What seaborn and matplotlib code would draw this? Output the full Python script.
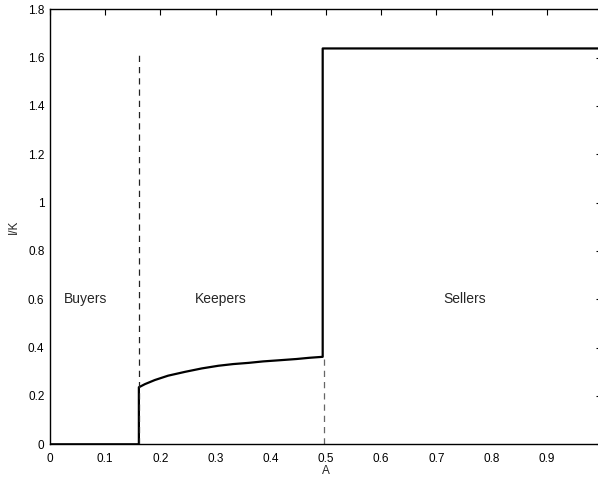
import matplotlib
matplotlib.use('Agg')
import matplotlib.pyplot as plt
import numpy as np
import pandas as pd
import seaborn as sns

# Investment ratio I/K against A, with the regime boundaries.
a_vals = [0.0, 0.161, 0.161, 0.172, 0.190, 0.214, 0.245, 0.275, 0.305,
          0.332, 0.360, 0.386, 0.417, 0.447, 0.470, 0.494, 0.494, 1.0]
ik_vals = [0.0, 0.0, 0.236, 0.249, 0.266, 0.284, 0.300, 0.314, 0.325,
           0.332, 0.337, 0.343, 0.348, 0.353, 0.358, 0.362, 1.638, 1.638]

# Boundary markers: (A, top of dashed line, colour)
bound_a = [0.161, 0.496]
bound_top = [1.628, 0.36]
bound_col = ['#222222', '#666666']

region_names = ['Buyers', 'Keepers', 'Sellers']
region_a = [0.065, 0.309, 0.752]
region_y = [0.6, 0.6, 0.6]

xtick_vals = [0, 0.1, 0.2, 0.3, 0.4, 0.5, 0.6, 0.7, 0.8, 0.9]
xtick_labels = ['0', '0.1', '0.2', '0.3', '0.4', '0.5', '0.6', '0.7', '0.8', '0.9']
ytick_vals = [0, 0.2, 0.4, 0.6, 0.8, 1.0, 1.2, 1.4, 1.6, 1.8]
ytick_labels = ['0', '0.2', '0.4', '0.6', '0.8', '1', '1.2', '1.4', '1.6', '1.8']

sns.set_theme(style='white')
plt.rcParams['font.family'] = ['Liberation Sans', 'DejaVu Sans']

fig = plt.figure(figsize=(5.98, 4.79), dpi=100)
ax = fig.add_axes([50 / 598, 1 - 444.3 / 479, 552 / 598, 435 / 479])

df = pd.DataFrame({'A': a_vals, 'IK': ik_vals})
sns.lineplot(data=df, x='A', y='IK', sort=False, estimator=None,
             color='black', linewidth=1.6, ax=ax)

for xa, top, col in zip(bound_a, bound_top, bound_col):
    ax.plot([xa, xa], [0, top], color=col, linewidth=0.9,
            linestyle=(0, (5, 4)))

for name, xa, ya in zip(region_names, region_a, region_y):
    ax.text(xa, ya, name, ha='center', va='center', fontsize=10)

ax.set_xlim(0, 1)
ax.set_ylim(0, 1.8)
ax.set_xticks(xtick_vals)
ax.set_xticklabels(xtick_labels)
ax.set_yticks(ytick_vals)
ax.set_yticklabels(ytick_labels)
ax.tick_params(direction='in', length=4, width=0.8, top=True, right=True,
               labelsize=8.5, colors='black')
ax.tick_params(axis='x', pad=6)
ax.tick_params(axis='y', pad=4)
for sp in ax.spines.values():
    sp.set_visible(True)
    sp.set_color('black')
    sp.set_linewidth(1.0)
ax.set_xlabel('A', fontsize=8.5, labelpad=0.5)
ax.set_ylabel('I/K', fontsize=8.5, labelpad=6)

fig.savefig('out.png', dpi=100)
